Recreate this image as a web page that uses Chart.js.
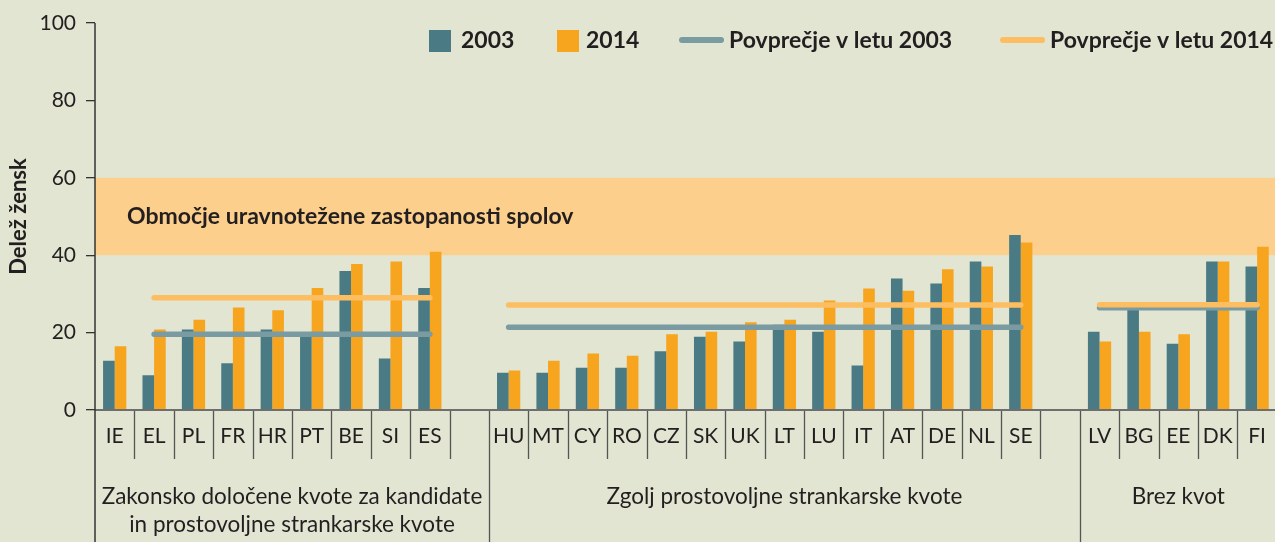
<!DOCTYPE html>
<html><head><meta charset="utf-8">
<script src="https://cdn.jsdelivr.net/npm/chart.js@4.4.1/dist/chart.umd.min.js"></script>
<style>
html,body{margin:0;padding:0;background:#e1e5d1;overflow:hidden;}
#wrap{width:1280px;height:542px;background:#e1e5d1;}
canvas{display:block;}
</style></head><body><div id="wrap"><canvas id="c" width="1280" height="542"></canvas></div>
<script>
// ---- data ----
const categories = ['IE','EL','PL','FR','HR','PT','BE','SI','ES','',
  'HU','MT','CY','RO','CZ','SK','UK','LT','LU','IT','AT','DE','NL','SE','',
  'LV','BG','EE','DK','FI'];
const values2003 = [12.7,9.0,20.8,12.1,20.8,19.6,35.9,13.3,31.5,null,
  9.6,9.6,10.9,10.9,15.2,18.9,17.7,22.0,20.2,11.5,34.0,32.7,38.4,45.2,null,
  20.2,26.3,17.1,38.4,37.1];
const values2014 = [16.5,20.8,23.3,26.5,25.8,31.5,37.7,38.4,40.9,null,
  10.2,12.7,14.6,14.0,19.6,20.2,22.7,23.3,28.3,31.4,30.8,36.4,37.1,43.3,null,
  17.7,20.2,19.6,38.4,42.2];
const groupNames = [['Zakonsko določene kvote za kandidate','in prostovoljne strankarske kvote'],
  ['Zgolj prostovoljne strankarske kvote'],['Brez kvot']];
const groupFirstSlot = [0,10,25];
const groupSlotCount = [10,15,5];
const avg2003 = [19.6,21.4,26.4];
const avg2014 = [29.0,27.1,27.2];
const avgRanges = [[1,8],[10,23],[25,29]];
const yTicks = [0,20,40,60,80,100];
const balanceZone = [40,60];
const seriesLabels = ['2003','2014','Povprečje v letu 2003','Povprečje v letu 2014'];
const zoneLabel = 'Območje uravnotežene zastopanosti spolov';
const yTitle = 'Delež žensk';

function avgLine(avgs){
  const d = categories.map(()=>null);
  avgRanges.forEach((r,g)=>{ for(let i=r[0];i<=r[1];i++) d[i]=avgs[g]; });
  return d;
}

const C2003='#4a7b84', C2014='#f7a51f', CA2003='#7b9ba2', CA2014='#fdbe62';
const FONT='Lato';
const TXT='#231f20';

const decor = {
  id:'decor',
  beforeDatasetsDraw(chart){
    const {ctx, chartArea:a, scales:{y}} = chart;
    ctx.save();
    const yt=y.getPixelForValue(balanceZone[1]), yb=y.getPixelForValue(balanceZone[0]);
    ctx.fillStyle='#fccf8c';
    ctx.fillRect(a.left, yt, a.right-a.left, yb-yt);
    ctx.fillStyle=TXT;
    ctx.font='bold 23px '+FONT;
    ctx.textBaseline='middle';
    ctx.textAlign='left';
    ctx.fillText(zoneLabel, 127, (yt+yb)/2);
    ctx.restore();
  },
  afterDraw(chart){
    const {ctx, chartArea:a, scales:{x,y}} = chart;
    const H = chart.height;
    ctx.save();
    // dividers
    ctx.strokeStyle='#555';
    ctx.lineWidth=1.3;
    for(let i=1;i<categories.length;i++){
      const px = Math.round((x.getPixelForValue(i-1)+x.getPixelForValue(i))/2)+0.5;
      const isGroup = groupFirstSlot.includes(i);
      ctx.beginPath();
      ctx.moveTo(px, a.bottom);
      ctx.lineTo(px, isGroup ? H : a.bottom+49);
      ctx.stroke();
    }
    // x axis line
    ctx.strokeStyle='#6e6e6e';
    ctx.lineWidth=2;
    ctx.beginPath(); ctx.moveTo(a.left, a.bottom); ctx.lineTo(a.right, a.bottom); ctx.stroke();
    // y axis line
    ctx.strokeStyle='#333';
    ctx.lineWidth=1.5;
    ctx.beginPath(); ctx.moveTo(a.left, a.top); ctx.lineTo(a.left, H); ctx.stroke();
    // group labels
    ctx.fillStyle=TXT;
    ctx.font='22.5px '+FONT;
    ctx.textAlign='center';
    ctx.textBaseline='middle';
    const slotW = x.getPixelForValue(1)-x.getPixelForValue(0);
    groupNames.forEach((lines,g)=>{
      const l = x.getPixelForValue(groupFirstSlot[g]) - slotW/2;
      const r = l + slotW*groupSlotCount[g];
      let cx=(l+r)/2;
      if (r > chart.width) cx = (l + Math.min(r, chart.width))/2 + 2;
      lines.forEach((t,k)=>ctx.fillText(t, cx, 497 + k*28));
    });
    // legend
    const ds = chart.data.datasets;
    ctx.font='bold 23px '+FONT;
    ctx.textAlign='left';
    ctx.fillStyle=ds[0].backgroundColor; ctx.fillRect(429,30,22,22);
    ctx.fillStyle=TXT; ctx.fillText(seriesLabels[0], 461, 41);
    ctx.fillStyle=ds[1].backgroundColor; ctx.fillRect(557,30,22,22);
    ctx.fillStyle=TXT; ctx.fillText(seriesLabels[1], 586, 41);
    ctx.lineCap='round'; ctx.lineWidth=6;
    ctx.strokeStyle=ds[2].borderColor;
    ctx.beginPath(); ctx.moveTo(682,40); ctx.lineTo(721,40); ctx.stroke();
    ctx.fillStyle=TXT; ctx.fillText(seriesLabels[2], 729, 41);
    ctx.strokeStyle=ds[3].borderColor;
    ctx.beginPath(); ctx.moveTo(1003,40); ctx.lineTo(1042,40); ctx.stroke();
    ctx.fillStyle=TXT; ctx.fillText(seriesLabels[3], 1050, 41);
    ctx.restore();
  }
};

new Chart(document.getElementById('c'), {
  data:{
    labels:categories,
    datasets:[
      {type:'bar', label:seriesLabels[0], data:values2003, backgroundColor:C2003, order:2,
        categoryPercentage:0.59, barPercentage:1.0},
      {type:'bar', label:seriesLabels[1], data:values2014, backgroundColor:C2014, order:2,
        categoryPercentage:0.59, barPercentage:1.0},
      {type:'line', label:seriesLabels[2], data:avgLine(avg2003), borderColor:CA2003, borderWidth:5.5,
        pointRadius:0, spanGaps:false, borderCapStyle:'round', order:1},
      {type:'line', label:seriesLabels[3], data:avgLine(avg2014), borderColor:CA2014, borderWidth:5.5,
        pointRadius:0, spanGaps:false, borderCapStyle:'round', order:0}
    ]
  },
  options:{
    responsive:false, animation:false, devicePixelRatio:1,
    layout:{padding:{top:23,left:0,right:0,bottom:0}},
    plugins:{legend:{display:false}, tooltip:{enabled:false}},
    scales:{
      x:{
        type:'category', offset:true,
        grid:{display:false, drawTicks:false},
        border:{display:false},
        ticks:{autoSkip:false, maxRotation:0, minRotation:0, padding:14,
          color:TXT, font:{family:FONT, size:21}},
        afterFit(s){ s.height = 132; }
      },
      y:{
        min:0, max:100,
        afterBuildTicks(s){ s.ticks = yTicks.map(v=>({value:v})); },
        grid:{drawOnChartArea:false, drawTicks:true, tickLength:9, color:'#333', lineWidth:1.3},
        border:{display:false},
        ticks:{padding:10, color:TXT, font:{family:FONT, size:21}},
        title:{display:true, text:yTitle, color:TXT, font:{family:FONT, size:22, weight:'bold'},
          padding:{top:6,bottom:0}},
        afterFit(s){ s.width = 95; }
      }
    }
  },
  plugins:[decor]
});
</script></body></html>
